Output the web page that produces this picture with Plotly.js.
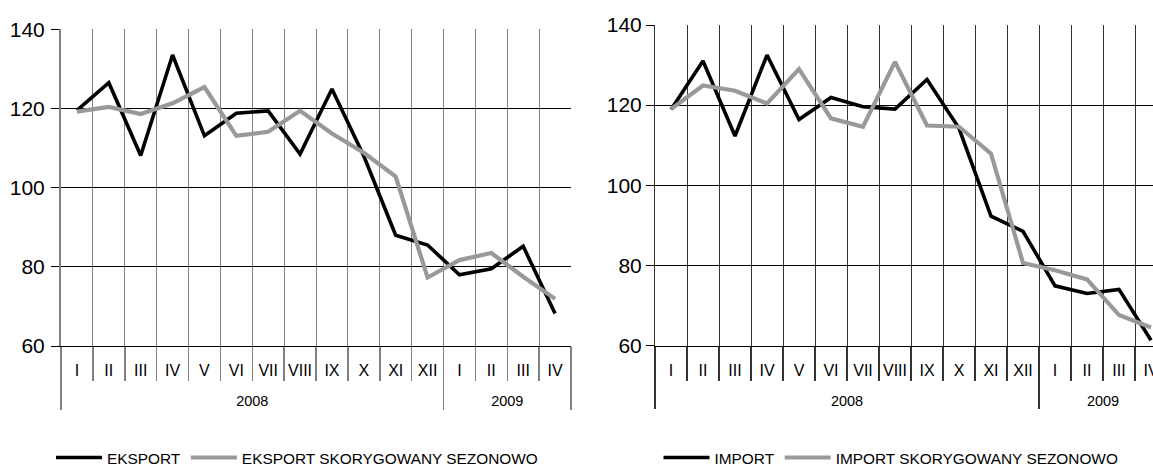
<!DOCTYPE html>
<html>
<head>
<meta charset="utf-8">
<script src="https://cdn.plot.ly/plotly-3.0.1.min.js"></script>
<style>
html,body{margin:0;padding:0;overflow:hidden;background:#fff}
#chart{width:1170px;height:466px}
</style>
</head>
<body>
<div id="chart"></div>
<script>
// ---- data ----
const months = ['I','II','III','IV','V','VI','VII','VIII','IX','X','XI','XII','I','II','III','IV'];
const years = ['2008','2008','2008','2008','2008','2008','2008','2008','2008','2008','2008','2008','2009','2009','2009','2009'];
const eksport   = [119.5,126.5,108.1,133.5,113.1,118.8,119.4,108.5,124.9,108.0,88.0,85.5,78.0,79.5,85.2,68.2];
const eksportSA = [119.2,120.4,118.6,121.3,125.4,113.1,114.1,119.4,113.7,108.8,102.8,77.3,81.7,83.5,77.5,71.9];
const importV   = [118.9,131.0,112.3,132.5,116.4,121.9,119.6,119.0,126.4,114.2,92.3,88.5,74.9,73.0,74.0,61.3];
const importSA  = [119.0,124.9,123.6,120.4,129.0,116.7,114.6,130.8,114.9,114.6,107.9,80.6,78.8,76.5,67.6,64.5];
const seriesNames = ['EKSPORT','EKSPORT SKORYGOWANY SEZONOWO','IMPORT','IMPORT SKORYGOWANY SEZONOWO'];

// ---- styling ----
const FONT = 'Arial, "Liberation Sans", sans-serif';
const W = 1170, H = 466;
// outer (year) level is pushed one line lower and drawn slightly smaller, as in the original
const yearLevel = years.map(y => '<br><span style="font-size:14.5px">' + y + '</span>');
const xcat = [yearLevel, months];

const traces = [
  {x: xcat, y: eksport, name: seriesNames[0], mode: 'lines', line: {color: '#000000', width: 3.6}, xaxis: 'x', yaxis: 'y', legend: 'legend'},
  {x: xcat, y: eksportSA, name: seriesNames[1], mode: 'lines', line: {color: '#999999', width: 4.2}, xaxis: 'x', yaxis: 'y', legend: 'legend'},
  {x: xcat, y: importV, name: seriesNames[2], mode: 'lines', line: {color: '#000000', width: 3.6}, xaxis: 'x2', yaxis: 'y2', legend: 'legend2'},
  {x: xcat, y: importSA, name: seriesNames[3], mode: 'lines', line: {color: '#999999', width: 4.2}, xaxis: 'x2', yaxis: 'y2', legend: 'legend2'}
];

function xAxis(l, r, col, anchor) {
  return {
    domain: [l / W, r / W], anchor: anchor, type: 'multicategory', range: [-0.5, 15.5],
    tickson: 'boundaries', ticks: 'outside', ticklen: 34, tickwidth: 1.5, tickcolor: col,
    showgrid: true, gridcolor: col, gridwidth: 1,
    showdividers: true, dividercolor: col, dividerwidth: 1.5,
    showline: true, linecolor: '#000', linewidth: 1, tickangle: 0,
    tickfont: {family: FONT, size: 16, color: '#000'},
    ticklabelstandoff: 10, fixedrange: true
  };
}
function yAxis(top, bottom, lineCol, lineW, anchor, standoff) {
  return {
    domain: [(H - bottom) / H, (H - top) / H], anchor: anchor, range: [60, 140], dtick: 20,
    showgrid: true, gridcolor: '#000', gridwidth: 1, zeroline: false,
    ticks: 'outside', ticklen: 8, tickcolor: '#000', tickwidth: 1,
    showline: true, linecolor: lineCol, linewidth: lineW,
    tickfont: {family: FONT, size: 21, color: '#000'},
    ticklabelstandoff: standoff, fixedrange: true
  };
}

const legendFont = {family: FONT, size: 15.4, color: '#000'};
function legendAt(cx) {
  return {orientation: 'h', x: cx / W, xanchor: 'center', y: 8 / H, yanchor: 'middle',
          itemwidth: 46, font: legendFont, bgcolor: 'rgba(0,0,0,0)', borderwidth: 0};
}
const layout = {
  width: W, height: H,
  margin: {l: 0, r: 0, t: 0, b: 0, autoexpand: false},
  paper_bgcolor: '#fff', plot_bgcolor: '#fff',
  font: {family: FONT, color: '#000'},
  showlegend: true,
  xaxis: xAxis(61, 571, '#808080', 'y'),
  yaxis: yAxis(29.3, 346, '#808080', 2, 'x', 2),
  xaxis2: xAxis(655, 1167, '#333333', 'y2'),
  yaxis2: yAxis(25, 345.5, '#333333', 1, 'x2', 0),
  legend: legendAt(297),
  legend2: legendAt(891)
};

Plotly.newPlot('chart', traces, layout, {staticPlot: true, displayModeBar: false});
</script>
</body>
</html>
